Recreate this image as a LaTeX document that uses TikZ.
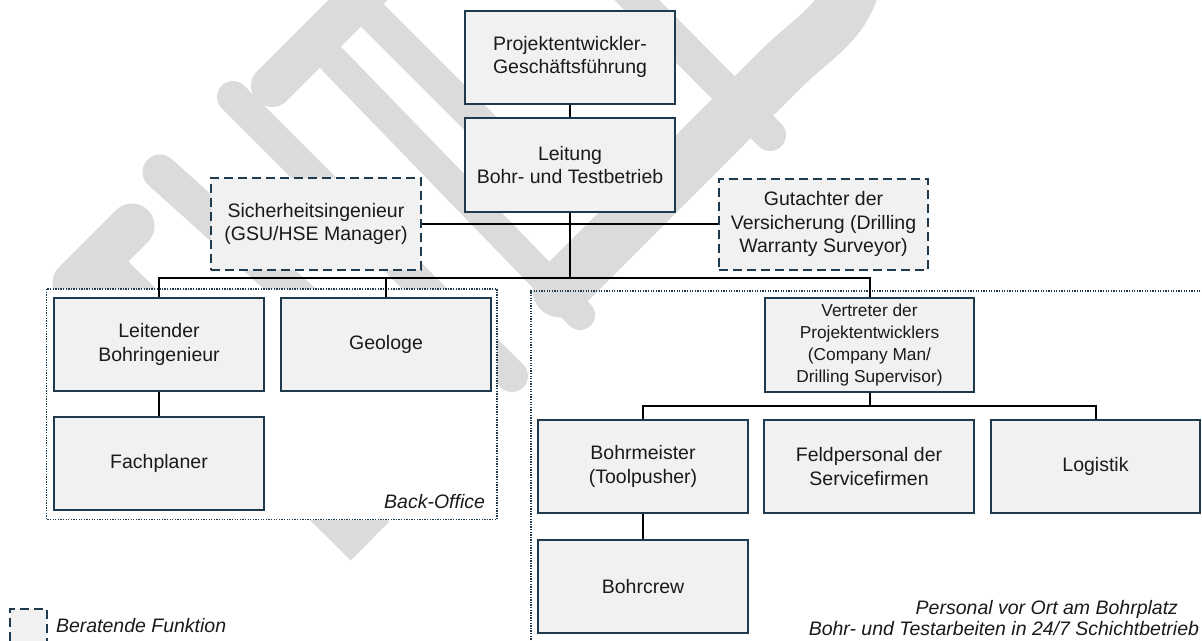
\documentclass[tikz,border=0pt]{standalone}
\usepackage{fontspec}
\setmainfont{Liberation Sans}
\pgfdeclarelayer{wmlayer}
\pgfdeclarelayer{linklayer}
\pgfsetlayers{wmlayer,linklayer,main}

\definecolor{boxedge}{HTML}{1F3A4D}
\definecolor{boxfill}{HTML}{F1F1F1}
\definecolor{wmgray}{HTML}{DBDBDB}
\definecolor{ink}{HTML}{1A1A1A}

\newcommand{\boxfont}{\fontsize{19.5}{23.5}\selectfont}
\newcommand{\tightfont}{\fontsize{17.3}{22}\selectfont}

\tikzset{
  orgbox/.style={draw=boxedge, fill=boxfill, line width=2pt,
    minimum width=210pt, minimum height=93pt, align=center,
    text=ink, font=\boxfont, inner sep=0pt, outer sep=0pt},
  advisor/.style={orgbox, dash pattern=on 9pt off 5pt},
  link/.style={draw=black, line width=2pt},
  thinlink/.style={draw=black, line width=1.6pt},
  region/.style={draw=boxedge, line width=1.3pt, dash pattern=on 1.3pt off 1.3pt},
  wm/.style={draw=wmgray, line cap=round},
  caption/.style={font=\boxfont\itshape, text=ink, inner sep=0pt, outer sep=0pt}
}

\begin{document}
\begin{tikzpicture}[x=1pt, y=-1pt]
\useasboundingbox (0,0) rectangle (1202,640);

% ---------- watermark strokes ----------
\begin{pgfonlayer}{wmlayer}
  \draw[wm, line width=45pt] (75,283) -- (132,226);
  \draw[draw=wmgray, line width=55pt] (93,265) -- (370,541);
  \draw[wm, line width=35pt] (160,172) -- (330,325);
  \draw[wm, line width=32pt] (233,97) -- (512,376);
  \draw[wm, line width=42pt] (272,86) -- (380,-22);
  \draw[wm, line width=30pt] (333,60) -- (580,315);
  \draw[wm, line width=32pt] (340,-17) -- (520,163);
  \draw[wm, line width=32pt] (620,-17) -- (770,135);
  \draw[wm, line width=55pt] (560,290) -- (780,70)
      .. controls (815,35) and (850,20) .. (855,-30);
\end{pgfonlayer}

% ---------- boxes ----------
\node[orgbox] (pg)   at (570,57)    {Projektentwickler-\\Geschäftsführung};
\node[orgbox, minimum height=94pt] (leit) at (570,165) {Leitung\\Bohr- und Testbetrieb};
\node[advisor, minimum height=92pt] (sich) at (316,224) {Sicherheitsingenieur\\(GSU/HSE Manager)};
\node[advisor, minimum width=209pt, minimum height=91pt] (gut) at (823.5,224) {Gutachter der\\Versicherung (Drilling\\Warranty Surveyor)};

\node[orgbox] (lbi)  at (159,344.5) {Leitender\\Bohringenieur};
\node[orgbox] (geo)  at (386,344.5) {Geologe};
\node[orgbox] (fach) at (159,463.5) {Fachplaner};

\node[orgbox, minimum width=209pt, minimum height=94pt, font=\tightfont] (vert) at (869.5,345)
  {Vertreter der\\Projektentwicklers\\(Company Man/\\Drilling Supervisor)};
\node[orgbox] (bm)   at (643,466.5)  {Bohrmeister\\(Toolpusher)};
\node[orgbox] (feld) at (869,466.5)  {Feldpersonal der\\Servicefirmen};
\node[orgbox, minimum width=209pt] (logi) at (1095.5,466.5) {Logistik};
\node[orgbox] (crew) at (643,586.5)  {Bohrcrew};

% ---------- captions and legend ----------
\node[caption, anchor=base east] (office) at (485,508) {Back-Office};
\node[caption, anchor=east] (site1) at (1178,609) {Personal vor Ort am Bohrplatz};
\node[caption, anchor=east] (site2) at (1199,629) {Bohr- und Testarbeiten in 24/7 Schichtbetrieb};
\node[advisor, minimum width=37pt, minimum height=43pt] (legbox) at (28.5,630.5) {};
\node[caption, anchor=west] (legtxt) at (56,626) {Beratende Funktion};

% ---------- groups and connectors ----------
\begin{pgfonlayer}{linklayer}
  \fill[white] (46.5,289) rectangle (497,519.5);
  \draw[region] (46.5,289) rectangle (497,519.5);
  \draw[region] (1203,291) -- (531,291) -- (531,641);

  \coordinate (bus)  at (570,278);
  \coordinate (bus2) at (869.5,406);

  \draw[thinlink] (pg) -- (leit);
  \draw[link] (sich.east) -- (gut.west);
  \draw[link] (leit.south) -- (bus);
  \draw[link] (lbi.north) |- (bus) -| (vert.north);
  \draw[link] (geo.north) -- (geo.north |- bus);
  \draw[thinlink] (lbi.south) -- (fach.north);
  \draw[link] (vert.south) -- (bus2);
  \draw[link] (bm.north) |- (bus2) -| (logi.north);
  \draw[thinlink] (bm.south) -- (crew.north);
\end{pgfonlayer}
\end{tikzpicture}
\end{document}
